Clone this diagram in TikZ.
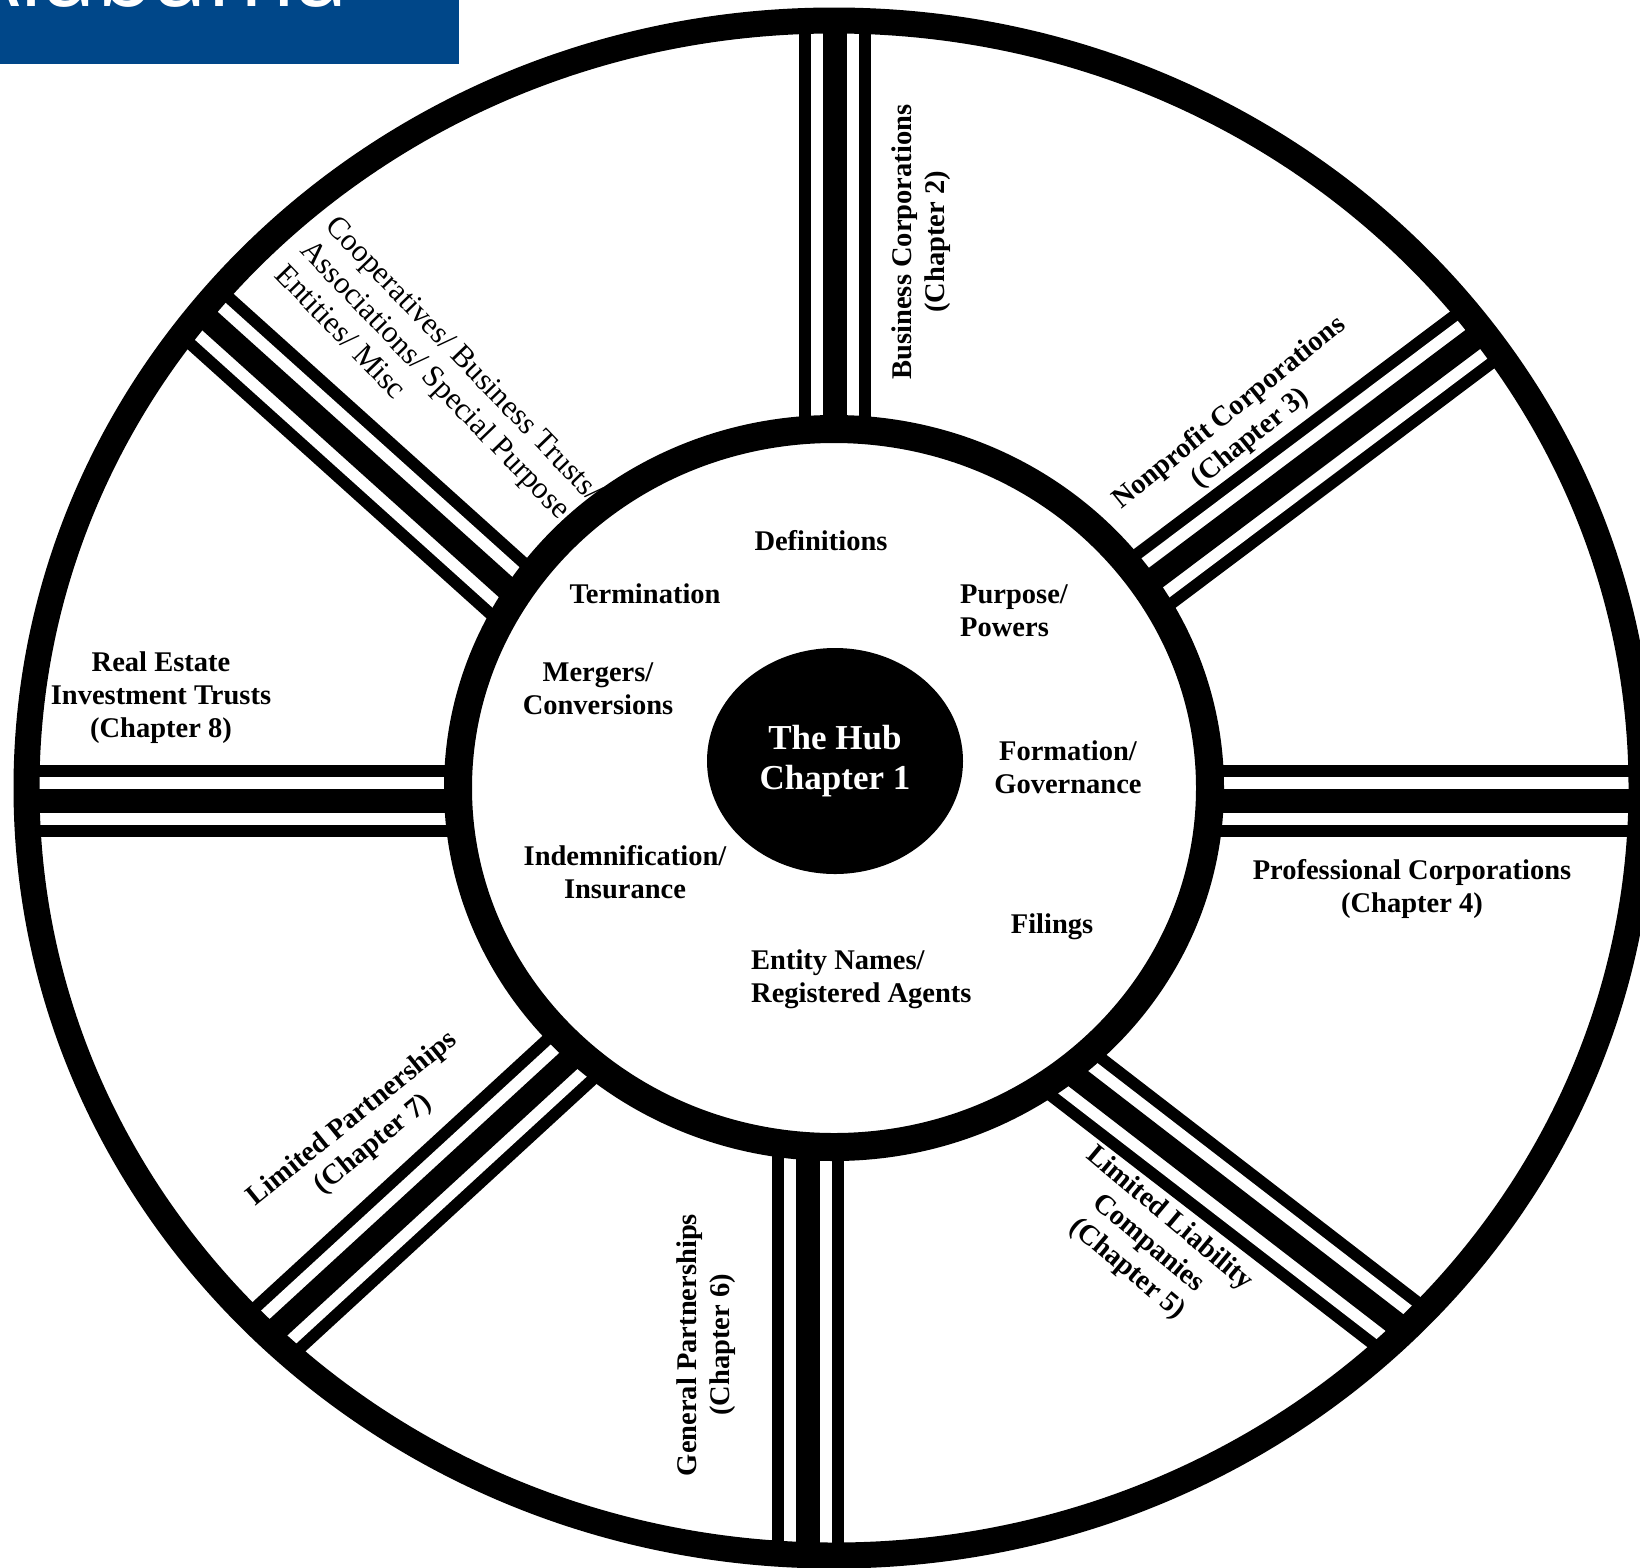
\documentclass[tikz,border=0pt]{standalone}
\usepackage{fontspec}
\setmainfont{Liberation Serif}
\newfontfamily\bannerfont{Open Sans}
\usetikzlibrary{shapes.geometric}
\definecolor{bannerblue}{RGB}{0,71,137}
\begin{document}
\begin{tikzpicture}[x=1pt,y=-1pt,
  lbl/.style={font=\fontsize{28.5}{33}\selectfont\bfseries, align=center, inner sep=0pt},
  lblr/.style={font=\fontsize{31}{35}\selectfont, align=left, inner sep=0pt},
  hubtext/.style={font=\fontsize{35}{40}\selectfont\bfseries, align=center, text=white, inner sep=0pt},
  spokeA/.style={line width=72pt, black},
  spokeB/.style={line width=48pt, white},
  spokeC/.style={line width=24pt, black},
  ringline/.style={black, line width=#1},
]
\useasboundingbox (0,0) rectangle (1640,1567);
\clip (0,0) rectangle (1640,1567);
\fill[white] (0,0) rectangle (1640,1567);

\coordinate (C) at (834,788);
% spoke end points
\coordinate (nA) at (835,788);  \coordinate (nB) at (835,-60);
\coordinate (sA) at (808,788);  \coordinate (sB) at (808,1650);
\coordinate (wA) at (834,801);  \coordinate (wB) at (-60,801);
\coordinate (eA) at (834,801);  \coordinate (eB) at (1720,801);
\coordinate (neA) at (913,760); \coordinate (neB) at (1713,159);
\coordinate (swA) at (786,861); \coordinate (swB) at (123,1470);
\coordinate (nwA) at (730,789); \coordinate (nwB) at (61,187);
\coordinate (seA) at (839,894); \coordinate (seB) at (1631,1505);

\begin{scope}
  \clip (C) ellipse [x radius=807.5pt, y radius=767.5pt];
  \foreach \a/\b in {nA/nB, sA/sB, wA/wB, eA/eB, neA/neB, swA/swB, nwA/nwB, seA/seB} {
    \draw[spokeA] (\a) -- (\b);
    \draw[spokeB] (\a) -- (\b);
    \draw[spokeC] (\a) -- (\b);
  }
\end{scope}

% inner ring
\fill[white] (C) ellipse [x radius=376pt, y radius=359pt];
\draw[ringline=28pt] (C) ellipse [x radius=376pt, y radius=359pt];
% outer ring
\draw[ringline=26pt] (C) ellipse [x radius=807.5pt, y radius=767.5pt];

% hub
\node[ellipse, fill=black, minimum width=256pt, minimum height=226pt, hubtext] (hub) at (835,761) {The Hub\\Chapter 1};

% inner labels
\node[lbl] (defs) at (821,541) {Definitions};
\node[lbl] (term) at (645,594) {Termination};
\node[lbl, align=left, anchor=west] (purp) at (960,611) {Purpose/\\Powers};
\node[lbl] (merg) at (598,689) {Mergers/\\Conversions};
\node[lbl] (form) at (1068,767) {Formation/\\Governance};
\node[lbl] (indem) at (625,872) {Indemnification/\\Insurance};
\node[lbl] (fil) at (1052,927) {Filings};
\node[lbl, align=left, anchor=west] (ent) at (751,979) {Entity Names/\\Registered Agents};

% outer labels
\node[lbl] (reit) at (161,698) {Real Estate\\Investment Trusts\\(Chapter 8)};
\node[lbl] (prof) at (1412,889) {Professional Corporations\\(Chapter 4)};
\node[lbl, rotate=90] (bus) at (921,242) {Business Corporations\\(Chapter 2)};
\node[lbl, rotate=39] (nonp) at (1240,426) {Nonprofit Corporations\\(Chapter 3)};
\node[lbl, rotate=-40] (llc) at (1148,1244) {Limited Liability\\Companies\\(Chapter 5)};
\node[lbl, rotate=90] (gp) at (706,1345) {General Partnerships\\(Chapter 6)};
\node[lbl, rotate=39] (lp) at (363,1132) {Limited Partnerships\\(Chapter 7)};
\node[lblr, rotate=-46, anchor=north west] (coop) at (339,213) {Cooperatives/ Business Trusts/\\Associations/ Special Purpose\\Entities/ Misc};

% banner
\fill[bannerblue] (0,0) rectangle (459,64);
\node[font=\bannerfont\fontsize{95}{95}\selectfont, text=white, anchor=base east, inner sep=0pt] (banner) at (349,6) {Alabama};
\end{tikzpicture}
\end{document}
